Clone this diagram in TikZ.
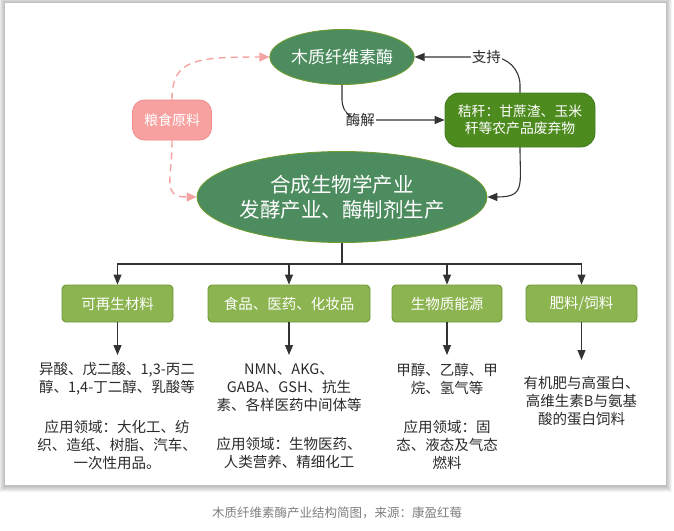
\documentclass[tikz,border=0pt]{standalone}
\usepackage{fontspec}
\setmainfont{Noto Sans CJK SC}
\usetikzlibrary{arrows.meta,shapes.geometric}
\definecolor{ellfill}{HTML}{4C8C5E}
\definecolor{ellline}{HTML}{6E9C33}
\definecolor{strawfill}{HTML}{4D8B1F}
\definecolor{strawline}{HTML}{427A1A}
\definecolor{boxfill}{HTML}{8CB450}
\definecolor{boxline}{HTML}{6E9A36}
\definecolor{pinkfill}{HTML}{F7A1A1}
\definecolor{pinkline}{HTML}{F08C8C}
\definecolor{pinkarrow}{HTML}{F4A3A3}
\definecolor{arrcol}{HTML}{333333}
\definecolor{txtcol}{HTML}{2B2B2B}
\definecolor{capcol}{HTML}{808080}
\begin{document}
\begin{tikzpicture}[x=1pt,y=-1pt,
  ellnode/.style={ellipse,fill=ellfill,draw=ellline,line width=0.9pt,text=white,inner sep=0pt,align=center},
  strawnode/.style={rectangle,rounded corners=14pt,fill=strawfill,draw=strawline,line width=0.8pt,text=white,inner sep=0pt,align=center,
    minimum width=150pt,minimum height=54pt,font=\fontsize{13.8}{17}\selectfont},
  grainnode/.style={rectangle,rounded corners=12pt,fill=pinkfill,draw=pinkline,line width=0.8pt,text=white,inner sep=0pt,
    minimum width=79pt,minimum height=40pt,font=\fontsize{14}{17}\selectfont},
  catbox/.style={rectangle,rounded corners=4pt,fill=boxfill,draw=boxline,line width=0.9pt,text=white,inner sep=0pt,
    minimum height=37pt,font=\fontsize{14.5}{17}\selectfont},
  desc/.style={text=txtcol,align=center,inner sep=0pt,font=\fontsize{14.5}{18}\selectfont},
  arr/.style={draw=arrcol,line width=1.1pt,-{Triangle[length=10pt,width=8pt]}},
  pinkarr/.style={draw=pinkarrow,line width=1.4pt,dash pattern=on 7pt off 5pt,-{Triangle[length=10pt,width=9pt]}},
  lbl/.style={fill=white,text=txtcol,inner sep=1pt,font=\fontsize{14.5}{17}\selectfont}
]
\useasboundingbox (0,0) rectangle (674,530);
\fill[white] (0,0) rectangle (674,530);
% card shadow
\foreach \i in {6,5,4,3,2,1}{
  \fill[black,opacity=0.045] (5-\i,3-\i) rectangle (666+\i,485+\i+1);
}
\fill[white] (5,3) rectangle (666,485);

% main nodes
\node[ellnode,minimum width=130pt,minimum height=55pt,font=\fontsize{17}{20}\selectfont] (top) at (342,57) {木质纤维素酶};
\node[grainnode] (grain) at (172,120) {粮食原料};
\node[strawnode] (straw) at (520,120) {秸秆：甘蔗渣、玉米\\秆等农产品废弃物};
\node[ellnode,minimum width=241pt,minimum height=91pt,font=\fontsize{20.5}{25}\selectfont] (mid) at (342,197) {合成生物学产业\\发酵产业、酶制剂生产};

% category boxes
\node[catbox,minimum width=111pt] (b1) at (117.5,303.5) {可再生材料};
\node[catbox,minimum width=162pt] (b2) at (289,303.5) {食品、医药、化妆品};
\node[catbox,minimum width=110pt] (b3) at (447,303.5) {生物质能源};
\node[catbox,minimum width=111pt] (b4) at (581.5,303.5) {肥料/饲料};

% descriptions
\node[desc] (d1) at (117,379) {异酸、戊二酸、1,3-丙二\\醇、1,4-丁二醇、乳酸等};
\node[desc] (e1) at (117,444.5) {应用领域：大化工、纺\\织、造纸、树脂、汽车、\\一次性用品。};
\node[desc] (d2) at (289,388) {NMN、AKG、\\GABA、GSH、抗生\\素、各样医药中间体等};
\node[desc] (e2) at (289,452.5) {应用领域：生物医药、\\人类营养、精细化工};
\node[desc] (d3) at (447,378.5) {甲醇、乙醇、甲\\烷、氢气等};
\node[desc] (e3) at (447,444.5) {应用领域：固\\态、液态及气态\\燃料};
\node[desc] (d4) at (581.5,401.5) {有机肥与高蛋白、\\高维生素B与氨基\\酸的蛋白饲料};

% arrow end points above descriptions
\coordinate (t1) at (117.5,355);
\coordinate (t2) at (289,355);
\coordinate (t3) at (447,355);
\coordinate (t4) at (581.5,360);

% connectors top part
\draw[pinkarr] (grain.north) .. controls +(0,-40) and +(-75,0) .. (top.west);
\draw[pinkarr] (grain.south) .. controls +(0,40) and +(-35,0) .. (mid.west);
\draw[arr,rounded corners=28pt] (straw.north) |- (top.east) node[lbl,pos=0.66] {支持};
\draw[arr,rounded corners=20pt] (top.south) |- (straw.west) node[lbl,pos=0.59] {酶解};
\draw[arr] (straw.south) .. controls +(0,38) and +(38,0) .. (mid.east);

% bus
\coordinate (bus) at (342,264);
\draw[arrcol,line width=1.1pt] (mid.south) -- (bus);
\foreach \b in {b1,b2,b3,b4}{
  \draw[arr] (bus) -| (\b.north);
}
\draw[arr] (b1.south) -- (t1);
\draw[arr] (b2.south) -- (t2);
\draw[arr] (b3.south) -- (t3);
\draw[arr] (b4.south) -- (t4);

% caption
\node[text=capcol,font=\fontsize{12.5}{15}\selectfont,inner sep=0pt] (cap) at (337,513) {木质纤维素酶产业结构简图，来源：康盈红莓};
\end{tikzpicture}
\end{document}
